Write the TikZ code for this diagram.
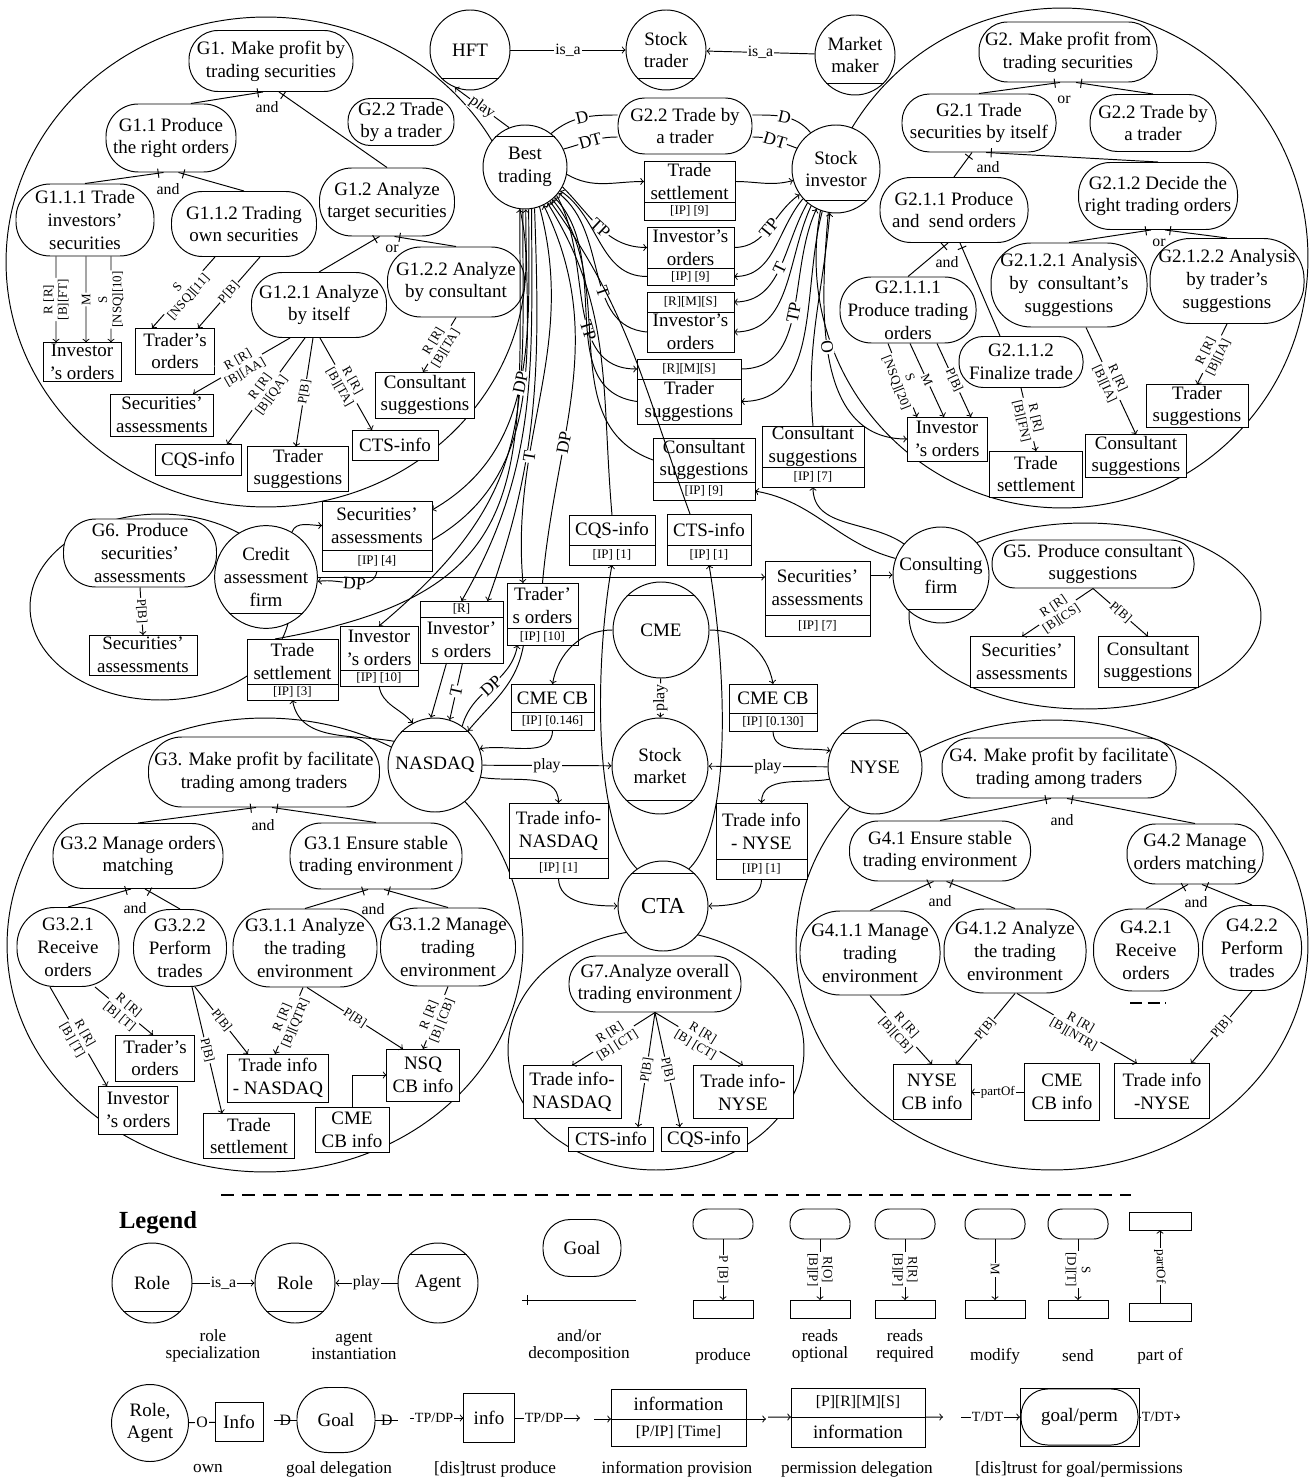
\documentclass[tikz,border=0pt]{standalone}
\usepackage{fontspec}
\setmainfont{Liberation Serif}
\usetikzlibrary{arrows,positioning,decorations.markings}

\newcommand{\gfont}{\fontsize{10.8}{13}\selectfont}
\newcommand{\lfont}{\fontsize{7.4}{8.2}\selectfont}
\newcommand{\rfont}{\fontsize{9}{10}\selectfont}
\newcommand{\tfont}{\fontsize{10}{11}\selectfont}
\newcommand{\capfont}{\fontsize{9.8}{9.6}\selectfont}

\begin{document}
\begin{tikzpicture}[x=0.02cm,y=-0.02cm,>=to,line width=0.55pt,
  goal/.style 2 args={rectangle,draw,fill=white,rounded corners=#2*0.0095cm,
    minimum width=#1*0.02cm,minimum height=#2*0.02cm,inner sep=0pt,align=center,font=\gfont},
  box/.style 2 args={rectangle,draw,fill=white,minimum width=#1*0.02cm,
    minimum height=#2*0.02cm,inner sep=0pt,outer sep=0pt,align=center,font=\gfont},
  sub/.style 2 args={box={#1}{#2},font=\lfont},
  actor/.style={circle,draw,fill=white,minimum size=#1*0.02cm,inner sep=0pt,align=center,font=\gfont},
  elab/.style={font=\lfont,fill=white,inner sep=0.6pt,align=center,sloped},
  rlab/.style={font=\rfont,fill=white,inner sep=0.6pt},
  tlab/.style={font=\tfont,fill=white,inner sep=0.4pt,sloped},
  dlab/.style={font=\rfont,inner sep=0pt},
  dec/.style={postaction={decorate},decoration={markings,
    mark=at position 3pt with {\draw (0,-2.6pt) -- (0,2.6pt);}}}]

\useasboundingbox (0,0) rectangle (1310,1479);

% goal areas
\draw (266,262) ellipse [x radius=5.2cm,y radius=4.9cm];
\draw (1062,258) ellipse [x radius=4.92cm,y radius=5cm];
\draw (160,607) ellipse [x radius=2.6cm,y radius=1.86cm];
\draw (1085,616) ellipse [x radius=3.52cm,y radius=1.86cm];
\draw (265,945) ellipse [x radius=5.16cm,y radius=4.54cm];
\draw (1052,945) ellipse [x radius=5.12cm,y radius=4.5cm];
\draw (656,1050) ellipse [x radius=2.96cm,y radius=2.4cm];

% roles and agents
\node[actor=80] (hft) at (470,50) {HFT};
\node[actor=80] (strader) at (666,50) {Stock\\trader};
\node[actor=80] (mmaker) at (855,55) {Market\\maker};
\node[actor=84] (bt) at (525,167) {Best\\trading};
\node[actor=88] (si) at (836,169) {Stock\\investor};
\node[actor=97] (cf) at (266,577) {Credit\\assessment\\firm};
\node[actor=96] (cfirm) at (941,575) {Consulting\\firm};
\node[actor=96] (cme) at (661,630) {CME};
\node[actor=96] (smkt) at (660,766) {Stock\\market};
\node[actor=94] (nasdaq) at (435,765) {NASDAQ};
\node[actor=94] (nyse) at (875,767) {NYSE};
\node[actor=90,font=\fontsize{13}{15}\selectfont] (cta) at (663,906) {CTA};
\foreach \n in {hft,strader,mmaker,si,cf,cfirm,smkt}
  \draw (\n.-135) -- (\n.-45);
\foreach \n in {bt,cme,nasdaq,nyse,cta}
  \draw (\n.135) -- (\n.45);

% G1
\node[goal={164}{61}] (g1) at (271,61) {G1. Make profit by\\trading securities};
\node[goal={106}{47}] (g22a) at (401,122) {G2.2 Trade\\by a trader};
\node[goal={130}{68}] (g11) at (171,138) {G1.1 Produce\\the right orders};
\node[goal={135}{68}] (g12) at (387,202) {G1.2 Analyze\\target securities};
\node[goal={138}{72}] (g111) at (85,220) {G1.1.1 Trade\\investors'\\securities};
\node[goal={145}{65}] (g112) at (244,224) {G1.1.2 Trading\\own securities};
\node[goal={135}{65}] (g121) at (319,305) {G1.2.1 Analyze\\by itself};
\node[goal={137}{70}] (g122) at (456,282) {G1.2.2 Analyze\\by consultant};
\node[box={78}{39}] (g1io) at (82,362) {Investor\\'s orders};
\node[box={79}{46}] (g1to) at (175,351) {Trader's\\orders};
\node[box={103}{42}] (g1sa) at (162,415) {Securities'\\assessments};
\node[box={86}{31}] (g1cqs) at (198,460) {CQS-info};
\node[box={101}{45}] (g1tsg) at (298,469) {Trader\\suggestions};
\node[box={86}{30}] (g1cts) at (395,445) {CTS-info};
\node[box={99}{46}] (g1cs) at (425,395) {Consultant\\suggestions};
\node[dlab] (and1) at (267,107) {and};
\node[dlab] (and2) at (168,189) {and};
\node[dlab] (or1) at (392,249) {or};

\path ([xshift=-0.16cm]g1.south) edge[dec] (g11.60)
  ([xshift=0.16cm]g1.south) edge[dec] (g12.north)
  ([xshift=-0.15cm]g11.south) edge[dec] (g111.north)
  ([xshift=0.15cm]g11.south) edge[dec] (g112.north)
  ([xshift=-0.15cm]g12.south) edge[dec] (g121.north)
  ([xshift=0.15cm]g12.south) edge[dec] (g122.north);
\path[<-] ([xshift=-0.52cm]g1io.north) edge node[elab]{R [R]\\{}[B][FT]} ([xshift=-0.58cm]g111.south)
  ([xshift=0.08cm]g1io.north) edge node[elab]{M} ([xshift=0.02cm]g111.south)
  ([xshift=0.58cm]g1io.north) edge node[elab]{S\\{}[NSQ][10]} ([xshift=0.52cm]g111.south);
\path[->] ([xshift=-0.58cm]g112.south) edge node[elab]{S\\{}[NSQ][11]} ([xshift=-0.46cm]g1to.north)
  ([xshift=0.32cm]g112.south) edge node[elab]{P[B]} ([xshift=0.46cm]g1to.north)
  ([xshift=-0.58cm]g121.south) edge node[elab]{R [R]\\{}[B][AA]} ([xshift=0.62cm]g1sa.north)
  ([xshift=-0.28cm]g121.south) edge node[elab]{R [R]\\{}[B][QA]} ([xshift=0.58cm]g1cqs.north)
  ([xshift=-0.12cm]g121.south) edge node[elab]{P[B]} ([xshift=-0.04cm]g1tsg.north)
  ([xshift=0.02cm]g121.south) edge node[elab]{R [R]\\{}[B][TA]} ([xshift=-0.46cm]g1cts.north)
  (g122.south) edge node[elab]{R [R]\\{}[B][TA]} ([xshift=-0.04cm]g1cs.north);

% G2
\node[goal={178}{60}] (g2) at (1068,52) {G2. Make profit from\\trading securities};
\node[goal={154}{58}] (g21) at (979,123) {G2.1 Trade\\securities by itself};
\node[goal={126}{57}] (g22b) at (1153,123) {G2.2 Trade by\\a trader};
\node[goal={148}{65}] (g211) at (954,210) {G2.1.1 Produce\\and~ send orders};
\node[goal={159}{67}] (g212) at (1158,196) {G2.1.2 Decide the\\right trading orders};
\node[goal={136}{66}] (g2111) at (908,310) {G2.1.1.1\\Produce trading\\orders};
\node[goal={124}{51}] (g2112) at (1021,362) {G2.1.1.2\\Finalize trade};
\node[goal={156}{84}] (g2121) at (1069,285) {G2.1.2.1 Analysis\\by~ consultant's\\suggestions};
\node[goal={154}{85}] (g2122) at (1227,281) {G2.1.2.2 Analysis\\by trader's\\suggestions};
\node[box={80}{44}] (g2io) at (947,439) {Investor\\'s orders};
\node[box={93}{46}] (g2ts) at (1036,474) {Trade\\settlement};
\node[box={101}{43}] (g2cs) at (1136,456) {Consultant\\suggestions};
\node[box={102}{43}] (g2tsg) at (1197,406) {Trader\\suggestions};
\node[dlab] (or2) at (1064,100) {or};
\node[dlab] (and3) at (988,167) {and};
\node[dlab] (and4) at (947,262) {and};
\node[dlab] (or3) at (1159,243) {or};

\path ([xshift=-0.16cm]g2.south) edge[dec] (g21.north)
  ([xshift=0.16cm]g2.south) edge[dec] (g22b.north)
  ([xshift=-0.14cm]g21.south) edge[dec] (g211.north)
  ([xshift=0.14cm]g21.south) edge[dec] (g212.north)
  ([xshift=-0.12cm]g211.south) edge[dec] (g2111.north)
  ([xshift=0.12cm]g211.south) edge[dec] ([xshift=-0.42cm]g2112.north)
  ([xshift=-0.14cm]g212.south) edge[dec] (g2121.north)
  ([xshift=0.14cm]g212.south) edge[dec] (g2122.north);
\path[->] ([xshift=-0.4cm]g2111.south) edge node[elab]{S\\{}[NSQ][20]} ([xshift=-0.6cm]g2io.north)
  ([xshift=0.04cm]g2111.south) edge node[elab]{M} ([xshift=-0.06cm]g2io.north)
  ([xshift=0.58cm]g2111.south) edge node[elab]{P[B]} ([xshift=0.48cm]g2io.north)
  (g2112.south) edge node[elab]{R [R]\\{}[B][FN]} (g2ts.north)
  ([xshift=0.34cm]g2121.south) edge node[elab]{R [R]\\{}[B][IA]} (g2cs.north)
  (g2122.south) edge node[elab]{R [R]\\{}[B][IA]} (g2tsg.north)
  (si.-100) edge[out=-95,in=180] node[tlab,pos=0.45]{O} (g2io.west);

% G6 and G5
\node[goal={153}{68}] (g6) at (140,553) {G6. Produce\\securities'\\assessments};
\node[box={108}{40}] (g6sa) at (143,655) {Securities'\\assessments};
\node[goal={202}{48}] (g5) at (1093,564) {G5. Produce consultant\\suggestions};
\node[box={104}{51}] (g5sa) at (1022,662) {Securities'\\assessments};
\node[box={100}{51}] (g5cs) at (1148,662) {Consultant\\suggestions};
\path[->] (g6.south) edge node[elab]{P[B]} (g6sa.north)
  (g5.south) edge node[elab]{R [R]\\{}[B][CS]} (g5sa.north)
  (g5.south) edge node[elab]{P[B]} (g5cs.north);

% G3
\node[goal={231}{70}] (g3) at (264,772) {G3. Make profit by facilitate\\trading among traders};
\node[goal={170}{65}] (g32) at (138,856) {G3.2 Manage orders\\matching};
\node[goal={172}{66}] (g31) at (376,856) {G3.1 Ensure stable\\trading environment};
\node[goal={102}{79}] (g321) at (68,947) {G3.2.1\\Receive\\orders};
\node[goal={93}{77}] (g322) at (180,948) {G3.2.2\\Perform\\trades};
\node[goal={144}{78}] (g311) at (305,948) {G3.1.1 Analyze\\the trading\\environment};
\node[goal={135}{78}] (g312) at (448,947) {G3.1.2 Manage\\trading\\environment};
\node[box={79}{46}] (g3to) at (155,1058) {Trader's\\orders};
\node[box={79}{48}] (g3io) at (138,1110) {Investor\\'s orders};
\node[box={91}{45}] (g3ts) at (249,1136) {Trade\\settlement};
\node[box={101}{48}] (g3ti) at (278,1078) {Trade info\\- NASDAQ};
\node[box={73}{52}] (g3nsq) at (423,1075) {NSQ\\CB info};
\node[box={74}{45}] (g3cme) at (352,1130) {CME\\CB info};
\node[dlab] (and5) at (263,825) {and};
\node[dlab] (and6) at (135,908) {and};
\node[dlab] (and7) at (373,909) {and};

\path ([xshift=-0.16cm]g3.south) edge[dec] (g32.north)
  ([xshift=0.16cm]g3.south) edge[dec] (g31.north)
  ([xshift=-0.14cm]g32.south) edge[dec] (g321.north)
  ([xshift=0.14cm]g32.south) edge[dec] (g322.north)
  ([xshift=-0.16cm]g31.south) edge[dec] (g311.north)
  ([xshift=0.16cm]g31.south) edge[dec] (g312.north);
\path[->] ([xshift=-0.36cm]g321.south) edge node[elab]{R [R]\\{}[B] [T]} ([xshift=-0.62cm]g3io.north)
  ([xshift=0.54cm]g321.south) edge node[elab]{R [R]\\{}[B] [T]} ([xshift=-0.04cm]g3to.north)
  ([xshift=0.24cm]g322.south) edge node[elab]{P[B]} ([xshift=-0.54cm]g3ts.north)
  ([xshift=0.3cm]g322.south) edge node[elab]{P[B]} ([xshift=-0.6cm]g3ti.north)
  ([xshift=-0.04cm]g311.south) edge node[elab]{R [R]\\{}[B][QTR]} ([xshift=-0.06cm]g3ti.north)
  ([xshift=0.04cm]g311.south) edge node[elab]{P[B]} ([xshift=-0.4cm]g3nsq.north)
  (g312.south) edge node[elab]{R [R]\\{}[B] [CB]} (g3nsq.north)
  (g3cme.north) edge[to path={|- (\tikztotarget)}] node[rlab,font=\lfont,pos=0.5]{partOf} (g3nsq.west);

% G4
\node[goal={234}{60}] (g4) at (1059,768) {G4. Make profit by facilitate\\trading among traders};
\node[goal={181}{60}] (g41) at (940,851) {G4.1 Ensure stable\\trading environment};
\node[goal={136}{60}] (g42) at (1195,854) {G4.2 Manage\\orders matching};
\node[goal={140}{84}] (g411) at (870,953) {G4.1.1 Manage\\trading\\environment};
\node[goal={142}{84}] (g412) at (1015,951) {G4.1.2 Analyze\\the trading\\environment};
\node[goal={105}{82}] (g421) at (1146,950) {G4.2.1\\Receive\\orders};
\node[goal={99}{85}] (g422) at (1252,948) {G4.2.2\\Perform\\trades};
\node[box={78}{55}] (g4nyse) at (932,1092) {NYSE\\CB info};
\node[box={75}{57}] (g4cme) at (1062,1092) {CME\\CB info};
\node[box={95}{55}] (g4ti) at (1162,1091) {Trade info\\-NYSE};
\node[dlab] (and8) at (1062,820) {and};
\node[dlab] (and9) at (940,901) {and};
\node[dlab] (and10) at (1196,902) {and};
\coordinate (dash1) at (1130,1003);
\coordinate (dash2) at (1166,1003);
\draw[line width=1.3pt,dash pattern=on 7pt off 3pt] (dash1) -- (dash2);

\path ([xshift=-0.16cm]g4.south) edge[dec] (g41.north)
  ([xshift=0.16cm]g4.south) edge[dec] (g42.north)
  ([xshift=-0.13cm]g41.south) edge[dec] (g411.north)
  ([xshift=0.13cm]g41.south) edge[dec] (g412.north)
  ([xshift=-0.14cm]g42.south) edge[dec] (g421.north)
  ([xshift=0.14cm]g42.south) edge[dec] (g422.north);
\path[->] (g411.south) edge node[elab]{R [R]\\{}[B][CB]} (g4nyse.north)
  (g412.south) edge node[elab]{P[B]} ([xshift=0.48cm]g4nyse.north)
  ([xshift=0.04cm]g412.south) edge node[elab]{R [R]\\{}[B][NTR]} ([xshift=-0.5cm]g4ti.north)
  (g422.south) edge node[elab]{P[B]} ([xshift=0.58cm]g4ti.north)
  (g4cme.west) edge node[rlab,font=\lfont]{partOf} (g4nyse.east);

% G7
\node[goal={172}{56}] (g7) at (655,984) {G7.Analyze overall\\trading environment};
\node[box={98}{53}] (g7tin) at (572,1092) {Trade info-\\NASDAQ};
\node[box={100}{53}] (g7tiy) at (743,1092) {Trade info-\\NYSE};
\node[box={85}{24}] (g7cts) at (611,1139) {CTS-info};
\node[box={86}{24}] (g7cqs) at (704,1139) {CQS-info};
\path[->] (g7.south) edge node[elab]{R [R]\\{}[B] [CT]} (g7tin.north)
  (g7.south) edge node[elab]{P[B]} ([xshift=0.54cm]g7cts.north)
  (g7.south) edge node[elab]{P[B]} ([xshift=-0.48cm]g7cqs.north)
  (g7.south) edge node[elab]{R [R]\\{}[B] [CT]} (g7tiy.north);

% exchanged goals and information
\node[goal={134}{56}] (g22m) at (685,126) {G2.2 Trade by\\a trader};
\node[box={91}{41}] (ts9) at (689.5,181.5) {Trade\\settlement};
\node[sub={91}{18},below=0pt of ts9] (ts9b) {[IP] [9]};
\node[box={87}{41}] (io9) at (690.5,247.5) {Investor's\\orders};
\node[sub={87}{17},below=0pt of io9] (io9b) {[IP] [9]};
\node[box={87}{40}] (rmsio) at (690.5,332) {Investor's\\orders};
\node[sub={87}{20},above=0pt of rmsio] (rmsiob) {[R][M][S]};
\node[box={104}{45}] (rmsts) at (689,401.5) {Trader\\suggestions};
\node[sub={104}{20},above=0pt of rmsts] (rmstsb) {[R][M][S]};
\node[box={102}{44}] (cs9) at (704,460) {Consultant\\suggestions};
\node[sub={102}{18},below=0pt of cs9] (cs9b) {[IP] [9]};
\node[box={102}{41}] (cs7) at (813,446.5) {Consultant\\suggestions};
\node[sub={102}{20},below=0pt of cs7] (cs7b) {[IP] [7]};
\node[box={86}{30}] (cqs1) at (612,530) {CQS-info};
\node[sub={86}{20},below=0pt of cqs1] (cqs1b) {[IP] [1]};
\node[box={84}{31}] (cts1) at (709,529.5) {CTS-info};
\node[sub={84}{20},below=0pt of cts1] (cts1b) {[IP] [1]};
\node[box={110}{49}] (sa4) at (377,525.5) {Securities'\\assessments};
\node[sub={110}{21},below=0pt of sa4] (sa4b) {[IP] [4]};
\node[box={105}{54}] (sa7) at (817.5,588) {Securities'\\assessments};
\node[sub={105}{21},below=0pt of sa7] (sa7b) {[IP] [7]};
\node[box={91}{45}] (ts3) at (292.5,661.5) {Trade\\settlement};
\node[sub={91}{16},below=0pt of ts3] (ts3b) {[IP] [3]};
\node[box={78}{44}] (io10) at (379,648) {Investor\\'s orders};
\node[sub={78}{16},below=0pt of io10] (io10b) {[IP] [10]};
\node[box={83}{46}] (rio) at (461.5,640) {Investor'\\s orders};
\node[sub={83}{16},above=0pt of rio] (riob) {[R]};
\node[box={71}{45}] (to10) at (542.5,605.5) {Trader'\\s orders};
\node[sub={71}{17},below=0pt of to10] (to10b) {[IP] [10]};
\node[box={83}{28}] (cb146) at (552.5,698) {CME CB};
\node[sub={83}{18},below=0pt of cb146] (cb146b) {[IP] [0.146]};
\node[box={88}{29}] (cb130) at (773,698.5) {CME CB};
\node[sub={88}{18},below=0pt of cb130] (cb130b) {[IP] [0.130]};
\node[box={99}{55}] (tin1) at (558.5,830.5) {Trade info-\\NASDAQ};
\node[sub={99}{20},below=0pt of tin1] (tin1b) {[IP] [1]};
\node[box={91}{56}] (tiy1) at (761.5,831) {Trade info\\- NYSE};
\node[sub={91}{20},below=0pt of tiy1] (tiy1b) {[IP] [1]};

\path[->] (hft) edge node[rlab]{is\_a} (strader)
  (mmaker) edge node[rlab]{is\_a} (strader)
  (bt.112) edge node[rlab,sloped]{play} (hft.-112)
  (nasdaq) edge node[rlab]{play} (smkt)
  (nyse) edge node[rlab]{play} (smkt)
  (cme) edge node[rlab,sloped]{play} (smkt);
\path (bt.52) edge[out=40,in=180] node[tlab]{D} ([yshift=0.22cm]g22m.west)
  (bt.25) edge[out=15,in=180] node[tlab]{DT} ([yshift=-0.22cm]g22m.west)
  ([yshift=0.22cm]g22m.east) edge[out=0,in=130] node[tlab]{D} (si.125)
  ([yshift=-0.22cm]g22m.east) edge[out=0,in=160] node[tlab]{DT} (si.152);

% between Best trading and Stock investor
\path[->] (bt.-10) edge[out=-30,in=180] (ts9.west)
  (ts9.east) edge[out=0,in=195] (si.195)
  (bt.-28) edge[out=-45,in=180] node[tlab]{TP} (io9.west)
  (io9.east) edge[out=0,in=-145] node[tlab]{TP} (si.-145)
  (si.-138) edge[out=-130,in=0] (io9b.east)
  (io9b.west) edge[out=180,in=-34] (bt.-34)
  (si.-130) edge[out=-120,in=0] node[tlab]{T} (rmsiob.east)
  (si.-124) edge[out=-115,in=0] (rmsio.east)
  (rmsio.west) edge[out=175,in=-38] node[tlab,pos=0.4]{T} (bt.-38)
  (bt.-42) edge[out=-60,in=180] node[tlab,pos=0.62]{TP} (rmstsb.west)
  (rmsts.west) edge[out=172,in=-46] (bt.-46)
  (rmstsb.east) edge[out=0,in=-115] node[tlab]{TP} (si.-116)
  (si.-108) edge[out=-105,in=0] (rmsts.east)
  (cs9.west) edge[out=160,in=-50] (bt.-50)
  (cs7.north) edge[out=95,in=-95] (si.-98)
  ([xshift=-0.38cm]cts1.north) edge[out=110,in=-54] (bt.-54)
  (cqs1.north) edge[out=95,in=-58] (bt.-58);

% towards Credit assessment firm and NASDAQ
\path[->] ([xshift=-0.35cm]ts3.north) edge[out=10,in=-90,looseness=1.4] (bt.-97)
  (bt.-93) edge[out=-90,in=40,looseness=1.2] (io10.north)
  ([yshift=-0.29cm]sa4.east) edge[out=30,in=-90] (bt.-89)
  (bt.-85) edge[out=-90,in=30] node[tlab,pos=0.5]{DP} ([yshift=0.31cm]sa4.east)
  (bt.-81) edge[out=-90,in=60] (riob.north)
  (bt.-77) edge[out=-88,in=70] ([xshift=0.52cm]riob.north)
  (bt.-70) edge[out=-75,in=95] node[tlab,pos=0.68]{T} ([xshift=-0.39cm]to10.north)
  (to10.north) edge[out=85,in=-64] node[tlab,pos=0.35]{DP} (bt.-64)
  (cf.60) edge[out=70,in=180] (sa4.west)
  (sa4b.south) edge[out=-100,in=10] node[tlab]{DP} (cf.-5)
  (cf.east) edge (sa7.west |- cf.east)
  (sa7.east |- cfirm.west) edge (cfirm.west)
  (cfirm.160) edge[out=165,in=-10] (cs9b.east)
  (cfirm.140) edge[out=145,in=-90] (cs7b.south)
  (nasdaq.150) edge[out=170,in=-80] (ts3b.south)
  (io10b.south) edge[out=-80,in=130] (nasdaq.118)
  ([xshift=-0.3cm]rio.south) edge (nasdaq.95)
  ([xshift=0.02cm]rio.south) edge node[tlab]{T} (nasdaq.72)
  (nasdaq.55) edge[out=75,in=-100] node[tlab]{DP} ([xshift=-0.5cm]to10b.south)
  ([xshift=-0.38cm]to10b.south) edge[out=-100,in=50] (nasdaq.46)
  (cme.west) edge[out=180,in=80] (cb146.north)
  (cme.east) edge[out=0,in=100] (cb130.north)
  (cb146b.south) edge[out=-90,in=10] (nasdaq.20)
  (cb130b.south) edge[out=-90,in=170] (nyse.160)
  (nasdaq.-15) edge[out=-10,in=90] (tin1.north)
  (nyse.195) edge[out=190,in=90] (tiy1.north)
  (tin1b.south) edge[out=-90,in=180] (cta.west)
  (tiy1b.south) edge[out=-90,in=0] (cta.east);
\draw[->] (cta.125) .. controls (588,820) and (598,640) .. (cqs1b.south);
\draw[->] (cta.55) .. controls (738,820) and (722,640) .. (cts1b.south);

% legend
\coordinate (ls1) at (221,1195);
\coordinate (ls2) at (1131,1195);
\draw[line width=1.1pt,dash pattern=on 7.6pt off 4.3pt] (ls1) -- (ls2);
\node[font=\fontsize{14}{16}\selectfont\bfseries] (leg) at (158,1223) {Legend};
\node[actor=80] (lr1) at (152,1283) {Role};
\node[actor=80] (lr2) at (295,1283) {Role};
\node[actor=80] (la) at (438,1283) {Agent};
\draw (lr1.-135) -- (lr1.-45) (lr2.-135) -- (lr2.-45) (la.135) -- (la.45);
\path[->] (lr1) edge node[rlab]{is\_a} (lr2)
  (la) edge node[rlab]{play} (lr2);
\node[goal={78}{57}] (lgoal) at (582,1248) {Goal};
\coordinate (ld1) at (522,1300);
\coordinate (ld2) at (636,1300);
\draw[dec] (ld1) -- (ld2);
\foreach \n/\x/\t in {pr/723/{P [B]},ro/820/{R[O]\\{}[B][P]},rr/905/{R[R]\\{}[B][P]},mo/995/M,se/1078/{S\\{}[D][T]}}{
  \node[goal={60}{30}] (g\n) at (\x,1224) {};
  \node[box={60}{18}] (b\n) at (\x,1309) {};
  \draw[->] (g\n) -- node[elab]{\t} (b\n);
}
\node[box={62}{18}] (tpo) at (1160,1221) {};
\node[box={62}{18}] (bpo) at (1160,1312) {};
\draw[<-] (tpo) -- node[elab]{partOf} (bpo);
\node[align=center,font=\capfont] (c1) at (213,1346) {role\\specialization};
\node[align=center,font=\capfont] (c2) at (354,1346) {agent\\instantiation};
\node[align=center,font=\capfont] (c3) at (579,1346) {and/or\\decomposition};
\node[font=\capfont] (c4) at (723,1356) {produce};
\node[align=center,font=\capfont] (c5) at (820,1346) {reads\\optional};
\node[align=center,font=\capfont] (c6) at (905,1346) {reads\\required};
\node[font=\capfont] (c7) at (995,1356) {modify};
\node[font=\capfont] (c8) at (1078,1356) {send};
\node[font=\capfont] (c9) at (1160,1356) {part of};

\node[actor=77] (lra) at (150,1423) {Role,\\Agent};
\node[box={48}{39}] (linfo) at (239,1422) {Info};
\path (lra) edge node[rlab]{O} (linfo);
\coordinate (gd1) at (274,1420);
\node[goal={78}{65}] (lgd) at (336,1420) {Goal};
\coordinate (gd2) at (398,1420);
\path (gd1) edge node[dlab]{D} (lgd)
  (lgd) edge node[dlab]{D} (gd2);
\coordinate (tp1) at (410,1418);
\node[box={51}{49}] (linfo2) at (489,1418) {info};
\coordinate (tp2) at (580,1418);
\path[->] (tp1) edge node[rlab,font=\fontsize{8}{9}\selectfont,pos=0.45]{TP/DP} (linfo2)
  (linfo2) edge node[rlab,font=\fontsize{8}{9}\selectfont,pos=0.45]{TP/DP} (tp2);
\node[box={135}{30}] (lip) at (678.5,1404) {information};
\node[box={135}{27},below=0pt of lip,font=\rfont] (lipb) {[P/IP] [Time]};
\coordinate (ip1) at (594,1419);
\coordinate (ip2) at (766,1419);
\path[->] (ip1) edge (lip.south west)
  (lip.south east) edge (ip2);
\node[box={134}{29},font=\rfont] (lpd) at (858,1402.5) {[P][R][M][S]};
\node[box={134}{30},below=0pt of lpd] (lpdb) {information};
\coordinate (pd1) at (768,1417);
\coordinate (pd2) at (943,1417);
\path[->] (pd1) edge (lpd.south west)
  (lpd.south east) edge (pd2);
\node[box={119}{58}] (ltr) at (1079.5,1417) {};
\node[goal={117}{56}] (ltrg) at (ltr) {goal/perm};
\coordinate (tr1) at (961,1417);
\coordinate (tr2) at (1180,1417);
\path[->] (tr1) edge node[rlab,font=\fontsize{8}{9}\selectfont,pos=0.45]{T/DT} (ltr)
  (ltr) edge node[rlab,font=\fontsize{8}{9}\selectfont,pos=0.45]{T/DT} (tr2);
\node[font=\capfont] (c10) at (208,1469) {own};
\node[font=\capfont] (c11) at (339,1469) {goal delegation};
\node[font=\capfont] (c12) at (495,1469) {[dis]trust produce};
\node[font=\capfont] (c13) at (677,1469) {information provision};
\node[font=\capfont] (c14) at (857,1469) {permission delegation};
\node[font=\capfont] (c15) at (1079,1469) {[dis]trust for goal/permissions};

\end{tikzpicture}
\end{document}
